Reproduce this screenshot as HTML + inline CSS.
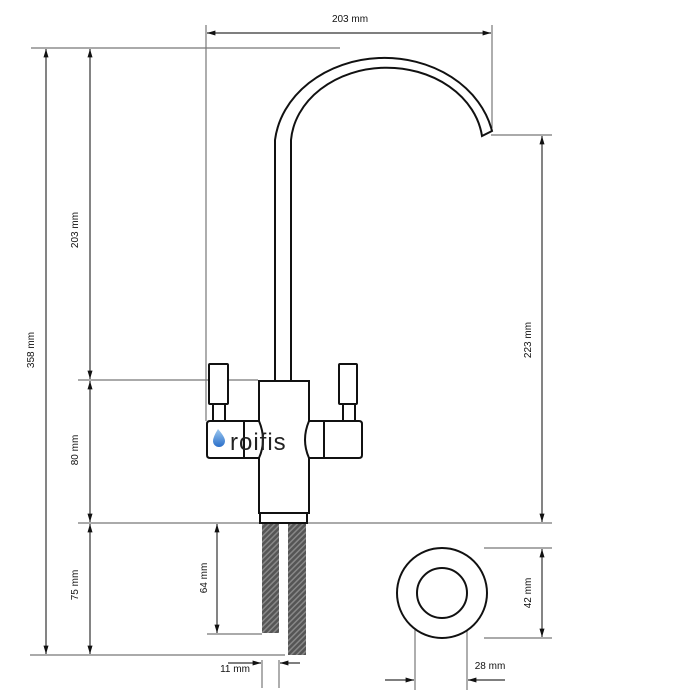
<!DOCTYPE html>
<html><head><style>html,body{margin:0;padding:0;background:#fff}svg{display:block}</style></head>
<body>
<svg width="700" height="700" viewBox="0 0 700 700" xmlns="http://www.w3.org/2000/svg" font-family="Liberation Sans, sans-serif">
<defs>
<marker id="a" viewBox="0 0 10 10" refX="10" refY="5" markerWidth="7" markerHeight="7" orient="auto-start-reverse"><path d="M0,2 L10,5 L0,8 z" fill="#111"/></marker>
<pattern id="h" width="4" height="4" patternUnits="userSpaceOnUse" patternTransform="rotate(45)"><rect width="4" height="4" fill="#555"/><rect width="1.5" height="4" fill="#888"/></pattern>
<linearGradient id="d" x1="0" y1="0" x2="0" y2="1"><stop offset="0" stop-color="#9cc8f0"/><stop offset="1" stop-color="#2a6fc9"/></linearGradient>
</defs>
<g stroke="#777" stroke-width="1.2" fill="none">
<line x1="206" y1="25" x2="206" y2="421"/>
<line x1="492" y1="25" x2="492" y2="128"/>
<line x1="31" y1="48" x2="340" y2="48"/>
<line x1="78" y1="380" x2="258" y2="380"/>
<line x1="78" y1="523" x2="552" y2="523"/>
<line x1="30" y1="655" x2="285" y2="655"/>
<line x1="207" y1="634" x2="262" y2="634"/>
<line x1="491" y1="135" x2="552" y2="135"/>
<line x1="484" y1="548" x2="552" y2="548"/>
<line x1="484" y1="638" x2="552" y2="638"/>
<line x1="262" y1="660" x2="262" y2="688"/>
<line x1="279" y1="660" x2="279" y2="688"/>
<line x1="415" y1="610" x2="415" y2="690"/>
<line x1="467" y1="610" x2="467" y2="690"/>
</g>
<g stroke="#333" stroke-width="1.2" fill="none" marker-start="url(#a)" marker-end="url(#a)">
<line x1="207" y1="33" x2="491" y2="33"/>
<line x1="46" y1="49" x2="46" y2="654"/>
<line x1="90" y1="49" x2="90" y2="379"/>
<line x1="90" y1="381" x2="90" y2="522"/>
<line x1="90" y1="524" x2="90" y2="654"/>
<line x1="217" y1="524" x2="217" y2="633"/>
<line x1="542" y1="136" x2="542" y2="522"/>
<line x1="542" y1="549" x2="542" y2="637"/>
</g>
<g stroke="#333" stroke-width="1.2" marker-end="url(#a)">
<line x1="228" y1="663" x2="261" y2="663"/>
<line x1="300" y1="663" x2="280" y2="663"/>
<line x1="385" y1="680" x2="414" y2="680"/>
<line x1="505" y1="680" x2="468" y2="680"/>
</g>
<g font-size="10" fill="#111">
<text x="350" y="22" text-anchor="middle">203 mm</text>
<text x="235" y="672" text-anchor="middle">11 mm</text>
<text x="490" y="669" text-anchor="middle">28 mm</text>
<text transform="translate(34,350) rotate(-90)" text-anchor="middle">358 mm</text>
<text transform="translate(78,230) rotate(-90)" text-anchor="middle">203 mm</text>
<text transform="translate(78,450) rotate(-90)" text-anchor="middle">80 mm</text>
<text transform="translate(78,585) rotate(-90)" text-anchor="middle">75 mm</text>
<text transform="translate(207,578) rotate(-90)" text-anchor="middle">64 mm</text>
<text transform="translate(531,340) rotate(-90)" text-anchor="middle">223 mm</text>
<text transform="translate(531,593) rotate(-90)" text-anchor="middle">42 mm</text>
</g>
<g stroke="#111" stroke-width="2" fill="#fff">
<path d="M275,381 L275,140 A110,92 0 0 1 492,131 L482,136 A96,78 0 0 0 291,140 L291,381"/>
<rect x="259" y="381" width="50" height="132"/>
<rect x="260" y="513" width="47" height="10"/>
<rect x="213" y="403" width="12" height="18"/>
<rect x="209" y="364" width="19" height="40" rx="1"/>
<rect x="343" y="403" width="12" height="18"/>
<rect x="339" y="364" width="18" height="40" rx="1"/>
<path d="M259,421 L210,421 Q207,421 207,424 L207,455 Q207,458 210,458 L259,458 Q267,440 259,421 Z"/>
<path d="M309,421 L359,421 Q362,421 362,424 L362,455 Q362,458 359,458 L309,458 Q301,440 309,421 Z"/>
<line x1="244" y1="421" x2="244" y2="458"/>
<line x1="324" y1="421" x2="324" y2="458"/>
<circle cx="442" cy="593" r="45"/>
<circle cx="442" cy="593" r="25"/>
</g>
<rect x="262" y="524" width="17" height="109" fill="url(#h)"/>
<rect x="288" y="524" width="18" height="131" fill="url(#h)"/>
<path d="M218,429 Q213,437 213,441 A6,6 0 0 0 225,441 Q225,437 218,429Z" fill="url(#d)"/>
<text x="230" y="450" font-size="24" fill="#222" letter-spacing="1">roifis</text>
</svg>
</body></html>
